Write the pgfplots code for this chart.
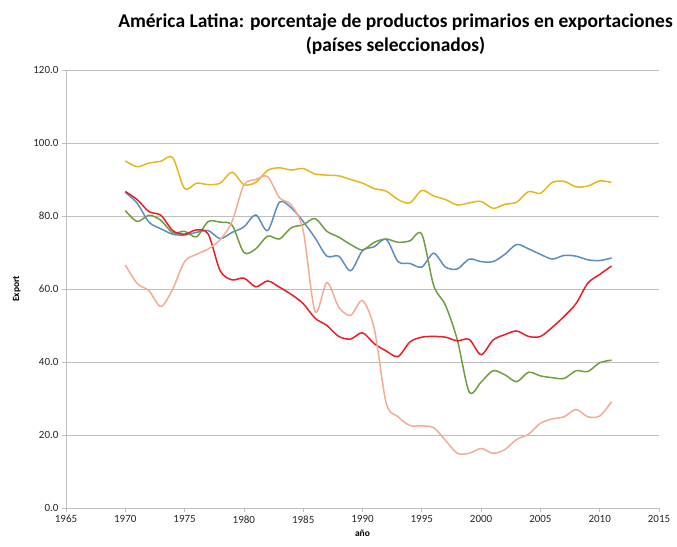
\documentclass[border=0pt]{standalone}
\usepackage{fontspec}
\setmainfont{Carlito}
\usepackage{pgfplots}
\pgfplotsset{compat=1.18}

\definecolor{cyel}{RGB}{228,184,28}
\definecolor{cblu}{RGB}{92,141,192}
\definecolor{cgrn}{RGB}{110,158,64}
\definecolor{cred}{RGB}{232,30,36}
\definecolor{cpnk}{RGB}{242,172,150}
\definecolor{cgrid}{RGB}{190,190,190}

\begin{document}
\begin{tikzpicture}
\begin{axis}[
  scale only axis, width=593pt, height=438pt,
  xmin=1965, xmax=2015, ymin=0, ymax=120,
  xtick={1965,1970,...,2015}, ytick={0,20,...,120},
  /pgf/number format/assume math mode=true,
  x tick label style={/pgf/number format/1000 sep={}},
  y tick label style={/pgf/number format/.cd,fixed,fixed zerofill,precision=1},
  tick label style={font=\fontsize{11}{13}\selectfont, text=black!85},
  axis lines*=left, axis line style={cgrid, line width=0.8pt},
  ymajorgrids, grid style={cgrid, line width=0.8pt},
  tick align=outside, major tick length=4pt, tick style={cgrid, line width=0.8pt},
  xlabel={\textbf{año}}, ylabel={\textbf{Export}},
  label style={font=\fontsize{9.5}{11}\selectfont},
  ylabel style={yshift=6pt},
  title={\textbf{América Latina: porcentaje de productos primarios en exportaciones}\\\textbf{(países seleccionados)}},
  title style={align=center, font=\fontsize{19.5}{24}\selectfont, xshift=33pt, yshift=6pt},
  every axis plot/.append style={smooth, line width=1.5pt, no marks},
]
% amarillo
\addplot[cyel] coordinates {
(1970,95.1)(1971,93.5)(1972,94.5)(1973,95.0)(1974,96.0)(1975,87.5)(1976,89.0)(1977,88.6)(1978,89.0)(1979,92.0)
(1980,88.6)(1981,89.2)(1982,92.5)(1983,93.2)(1984,92.6)(1985,93.0)(1986,91.5)(1987,91.2)(1988,91.0)(1989,90.0)
(1990,89.0)(1991,87.5)(1992,86.8)(1993,84.5)(1994,83.6)(1995,87.0)(1996,85.5)(1997,84.5)(1998,83.0)(1999,83.6)
(2000,84.0)(2001,82.1)(2002,83.2)(2003,83.8)(2004,86.7)(2005,86.2)(2006,89.2)(2007,89.5)(2008,88.0)(2009,88.2)
(2010,89.6)(2011,89.2)};
% azul
\addplot[cblu] coordinates {
(1970,86.5)(1971,83.5)(1972,78.3)(1973,76.5)(1974,75.0)(1975,74.8)(1976,75.5)(1977,76.0)(1978,73.8)(1979,75.5)
(1980,77.0)(1981,80.3)(1982,76.0)(1983,83.8)(1984,82.2)(1985,78.5)(1986,74.0)(1987,69.0)(1988,69.0)(1989,65.0)
(1990,70.5)(1991,71.6)(1992,73.6)(1993,67.5)(1994,67.0)(1995,66.0)(1996,69.8)(1997,66.0)(1998,65.5)(1999,68.2)
(2000,67.5)(2001,67.5)(2002,69.5)(2003,72.2)(2004,71.0)(2005,69.5)(2006,68.2)(2007,69.2)(2008,69.0)(2009,68.0)
(2010,67.8)(2011,68.5)};
% verde
\addplot[cgrn] coordinates {
(1970,81.5)(1971,78.5)(1972,80.2)(1973,78.8)(1974,75.4)(1975,75.8)(1976,74.3)(1977,78.5)(1978,78.3)(1979,77.5)
(1980,70.0)(1981,71.0)(1982,74.5)(1983,73.7)(1984,76.8)(1985,77.6)(1986,79.3)(1987,75.8)(1988,74.2)(1989,72.2)
(1990,70.7)(1991,72.8)(1992,73.7)(1993,72.8)(1994,73.2)(1995,75.0)(1996,61.0)(1997,55.5)(1998,46.0)(1999,31.8)
(2000,34.5)(2001,37.6)(2002,36.5)(2003,34.6)(2004,37.2)(2005,36.2)(2006,35.7)(2007,35.5)(2008,37.6)(2009,37.4)
(2010,39.8)(2011,40.5)};
% rojo
\addplot[cred] coordinates {
(1970,86.7)(1971,84.5)(1972,81.2)(1973,80.2)(1974,76.0)(1975,75.0)(1976,76.2)(1977,75.0)(1978,65.0)(1979,62.5)
(1980,63.0)(1981,60.6)(1982,62.2)(1983,60.5)(1984,58.5)(1985,56.0)(1986,52.0)(1987,50.0)(1988,47.0)(1989,46.3)
(1990,48.0)(1991,45.0)(1992,43.0)(1993,41.5)(1994,45.5)(1995,46.8)(1996,47.0)(1997,46.8)(1998,45.8)(1999,46.2)
(2000,42.0)(2001,46.0)(2002,47.5)(2003,48.5)(2004,47.0)(2005,47.0)(2006,49.5)(2007,52.5)(2008,56.0)(2009,61.6)
(2010,64.0)(2011,66.3)};
% salmón
\addplot[cpnk] coordinates {
(1970,66.6)(1971,61.5)(1972,59.5)(1973,55.2)(1974,60.0)(1975,67.5)(1976,69.5)(1977,71.0)(1978,73.5)(1979,78.5)
(1980,88.5)(1981,90.0)(1982,90.8)(1983,85.0)(1984,83.0)(1985,76.0)(1986,53.8)(1987,61.8)(1988,55.0)(1989,52.8)
(1990,56.8)(1991,49.0)(1992,28.7)(1993,25.0)(1994,22.6)(1995,22.5)(1996,22.0)(1997,18.5)(1998,15.0)(1999,15.0)
(2000,16.3)(2001,15.0)(2002,16.0)(2003,18.8)(2004,20.2)(2005,23.2)(2006,24.4)(2007,25.0)(2008,27.0)(2009,25.0)
(2010,25.2)(2011,29.1)};
\end{axis}
\pgfresetboundingbox
\path[use as bounding box] (-66pt,-38pt) rectangle (611pt,508pt);
\end{tikzpicture}
\end{document}
